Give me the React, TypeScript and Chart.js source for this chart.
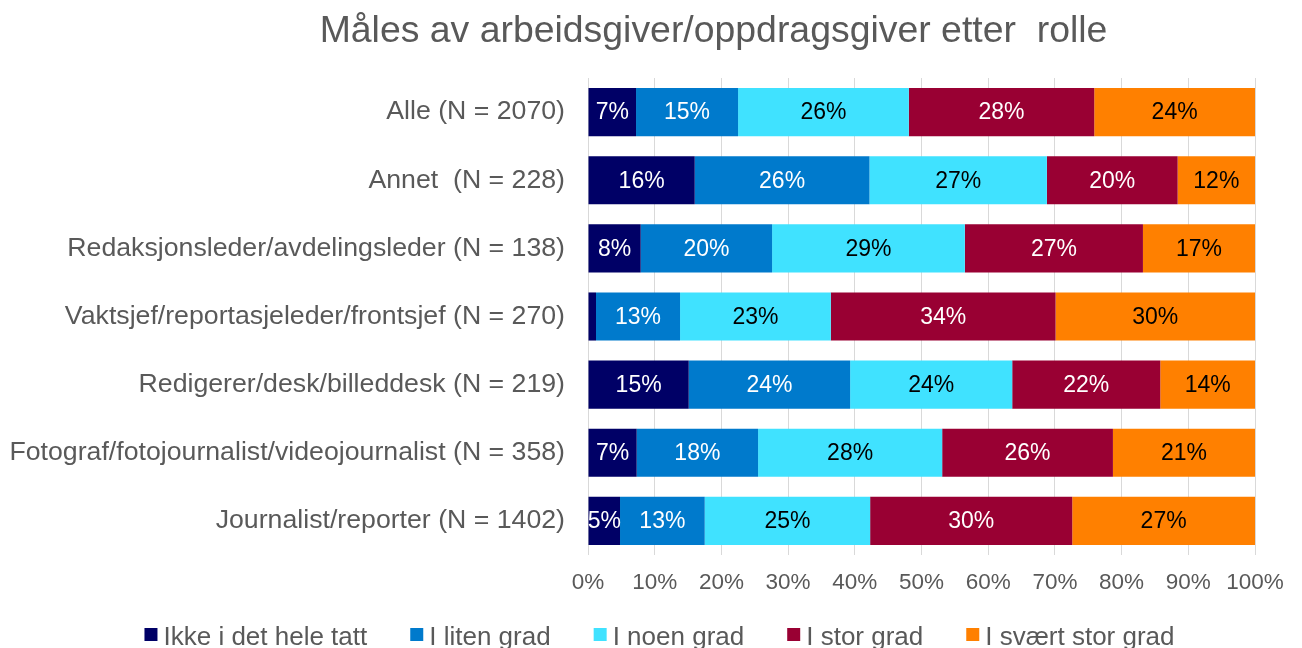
import { useEffect, useRef } from "react";
import { Chart, registerables } from "chart.js";

Chart.register(...registerables);

const TITLE = "Måles av arbeidsgiver/oppdragsgiver etter  rolle";

const categories = [
  "Alle (N = 2070)",
  "Annet  (N = 228)",
  "Redaksjonsleder/avdelingsleder (N = 138)",
  "Vaktsjef/reportasjeleder/frontsjef (N = 270)",
  "Redigerer/desk/billeddesk (N = 219)",
  "Fotograf/fotojournalist/videojournalist (N = 358)",
  "Journalist/reporter (N = 1402)",
];

const seriesNames = [
  "Ikke i det hele tatt",
  "I liten grad",
  "I noen grad",
  "I stor grad",
  "I svært stor grad",
];

const ikkeIDetHeleTatt = [7.2, 16.0, 7.9, 1.2, 15.1, 7.3, 4.8];
const iLitenGrad = [15.3, 26.2, 19.7, 12.6, 24.2, 18.2, 12.7];
const iNoenGrad = [25.6, 26.6, 28.9, 22.6, 24.3, 27.6, 24.8];
const iStorGrad = [27.8, 19.6, 26.7, 33.7, 22.2, 25.6, 30.3];
const iSvaertStorGrad = [24.1, 11.6, 16.8, 29.9, 14.2, 21.3, 27.4];

const seriesValues = [ikkeIDetHeleTatt, iLitenGrad, iNoenGrad, iStorGrad, iSvaertStorGrad];
const seriesColors = ["#000066", "#007ACC", "#40E2FF", "#990033", "#FF8000"];
const valueLabelColors = ["#FFFFFF", "#FFFFFF", "#000000", "#FFFFFF", "#000000"];

const FONT = "'Liberation Sans', Arial, Helvetica, sans-serif";
const GRAY = "#595959";

const barLabelPlugin = {
  id: "barLabels",
  afterDatasetsDraw(chart: any) {
    const ctx = chart.ctx;
    const area = chart.chartArea;
    ctx.save();
    ctx.beginPath();
    ctx.rect(area.left, area.top, area.right - area.left, area.bottom - area.top);
    ctx.clip();
    ctx.font = `23px ${FONT}`;
    ctx.textAlign = "center";
    ctx.textBaseline = "middle";
    chart.data.datasets.forEach((ds: any, i: number) => {
      const meta = chart.getDatasetMeta(i);
      meta.data.forEach((el: any, j: number) => {
        const v = ds.data[j];
        if (v < 2) return;
        const p = el.getProps(["x", "y", "base"], true);
        ctx.fillStyle = valueLabelColors[i];
        ctx.fillText(Math.round(v) + "%", (p.x + p.base) / 2, p.y + 1);
      });
    });
    ctx.restore();
  },
};

const titleLegendPlugin = {
  id: "titleLegend",
  afterDraw(chart: any) {
    const ctx = chart.ctx;
    ctx.save();
    // title
    ctx.font = `37.4px ${FONT}`;
    ctx.fillStyle = GRAY;
    ctx.textAlign = "center";
    ctx.textBaseline = "alphabetic";
    ctx.fillText(TITLE, 713.5, 42);

    // legend
    ctx.font = `26px ${FONT}`;
    const box = 13;
    const gap = 6;
    const spacing = 43;
    const widths = seriesNames.map((n) => ctx.measureText(n).width);
    const total =
      widths.reduce((a, b) => a + b, 0) + seriesNames.length * (box + gap) + (seriesNames.length - 1) * spacing;
    let x = 659.5 - total / 2;
    ctx.textAlign = "left";
    seriesNames.forEach((n, i) => {
      ctx.fillStyle = seriesColors[i];
      ctx.fillRect(x, 628, box, box);
      ctx.fillStyle = GRAY;
      ctx.fillText(n, x + box + gap, 645);
      x += box + gap + widths[i] + spacing;
    });
    ctx.restore();
  },
};

export default function App() {
  const ref = useRef<HTMLCanvasElement>(null);
  useEffect(() => {
    document.body.style.margin = "0";
    const chart = new Chart(ref.current!, {
      type: "bar",
      data: {
        labels: categories,
        datasets: seriesNames.map((name, i) => ({
          label: name,
          data: seriesValues[i],
          backgroundColor: seriesColors[i],
          borderWidth: 0,
          barPercentage: 0.706,
          categoryPercentage: 1,
        })),
      },
      options: {
        indexAxis: "y",
        animation: false,
        responsive: true,
        maintainAspectRatio: false,
        layout: { padding: { top: 78, right: 47, bottom: 53, left: 0 } },
        plugins: {
          legend: { display: false },
          title: { display: false },
          tooltip: { enabled: false },
        },
        scales: {
          x: {
            stacked: true,
            min: 0,
            max: 100,
            ticks: {
              stepSize: 10,
              padding: 14.5,
              color: GRAY,
              font: { family: FONT, size: 22.5 },
              callback: (v: any) => v + "%",
            },
            grid: { color: "#D9D9D9", lineWidth: 1, drawTicks: false },
            border: { display: false },
            afterFit: (scale: any) => {
              scale.height = 40;
            },
          },
          y: {
            stacked: true,
            ticks: {
              padding: 23,
              color: GRAY,
              font: { family: FONT, size: 26.7 },
            },
            grid: { display: false, drawTicks: false },
            border: { display: false },
            afterFit: (scale: any) => {
              scale.width = 588;
            },
          },
        },
      },
      plugins: [barLabelPlugin, titleLegendPlugin],
    });
    return () => chart.destroy();
  }, []);
  return (
    <div style={{ position: "relative", width: 1302, height: 648 }}>
      <canvas ref={ref} />
    </div>
  );
}
